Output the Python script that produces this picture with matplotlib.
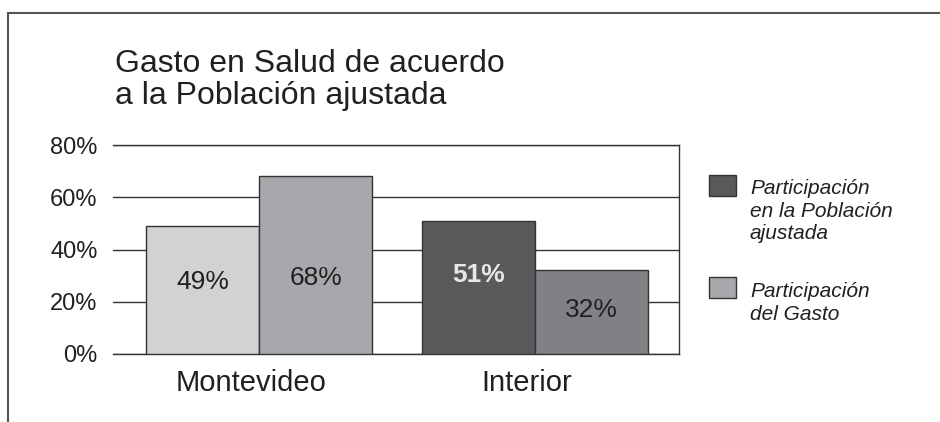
import matplotlib.pyplot as plt
from matplotlib.lines import Line2D
from matplotlib.patches import Rectangle
import numpy as np

categories = ['Montevideo', 'Interior']
poblacion = [49, 51]
gasto = [68, 32]
poblacion_labels = ['49%', '51%']
gasto_labels = ['68%', '32%']
y_ticks = [0, 20, 40, 60, 80]
y_tick_labels = ['0%', '20%', '40%', '60%', '80%']
legend_labels = ['Participación\nen la Población\najustada', 'Participación\ndel Gasto']

plt.rcParams['font.family'] = ['Liberation Sans', 'DejaVu Sans']
ink = '#231f20'

fig = plt.figure(figsize=(9.4, 4.22), dpi=100)
ax = fig.add_axes([113 / 940, 1 - 354 / 422, 566 / 940, 209 / 422])

x = np.arange(len(categories))
w = 0.41
pob_colors = ['#d1d2d4', '#58595b']
gas_colors = ['#a7a8ab', '#808184']
ax.bar(x - w / 2, poblacion, w, color=pob_colors, edgecolor='#333333', linewidth=1, zorder=3)
ax.bar(x + w / 2, gasto, w, color=gas_colors, edgecolor='#333333', linewidth=1, zorder=3)

# value labels inside the bars
pob_label_y = [27.7, 30.2]
gas_label_y = [29.0, 16.8]
pob_label_style = [dict(color=ink), dict(color='#e6e7e8', fontweight='bold')]
for i in range(len(categories)):
    ax.text(x[i] - w / 2, pob_label_y[i], poblacion_labels[i], ha='center', va='center',
            fontsize=19, zorder=4, **pob_label_style[i])
    ax.text(x[i] + w / 2, gas_label_y[i], gasto_labels[i], ha='center', va='center',
            fontsize=19, color=ink, zorder=4)

ax.set_xlim(-0.529, 1.522)
ax.set_ylim(0, 80)
ax.set_yticks(y_ticks)
ax.set_yticklabels(y_tick_labels, fontsize=17, color=ink)
ax.set_xticks(x - 0.03)
ax.set_xticklabels(categories, fontsize=21, color=ink)
ax.tick_params(length=0)
ax.tick_params(axis='y', pad=11)
ax.tick_params(axis='x', pad=11)
ax.yaxis.grid(True, color='#333333', linewidth=1)
ax.set_axisbelow(True)
ax.spines['left'].set_visible(False)
for s in ['top', 'right', 'bottom']:
    ax.spines[s].set_color('#333333')
    ax.spines[s].set_linewidth(1)

# title
fig.text(115 / 940, 1 - 49 / 422, 'Gasto en Salud de acuerdo\na la Población ajustada',
         fontsize=23, color=ink, ha='left', va='top', linespacing=1.07)

# legend
swatch_y = [175, 277]
text_y = [179, 282]
leg_colors = ['#58595b', '#a8a9ac']
for i in range(2):
    fig.patches.append(Rectangle((709 / 940, 1 - (swatch_y[i] + 21) / 422), 27 / 940, 21 / 422,
                                 transform=fig.transFigure, facecolor=leg_colors[i],
                                 edgecolor='#333333', linewidth=1))
    fig.text(750 / 940, 1 - text_y[i] / 422, legend_labels[i], fontsize=15, style='italic',
             color=ink, ha='left', va='top', linespacing=1.24)

# outer frame (top and left only)
fig.lines.append(Line2D([8 / 940, 1], [1 - 13 / 422, 1 - 13 / 422], transform=fig.transFigure,
                        color='#555555', linewidth=1.5))
fig.lines.append(Line2D([8 / 940, 8 / 940], [1 - 13 / 422, 0], transform=fig.transFigure,
                        color='#555555', linewidth=1.5))

fig.savefig('out.png', dpi=100)
